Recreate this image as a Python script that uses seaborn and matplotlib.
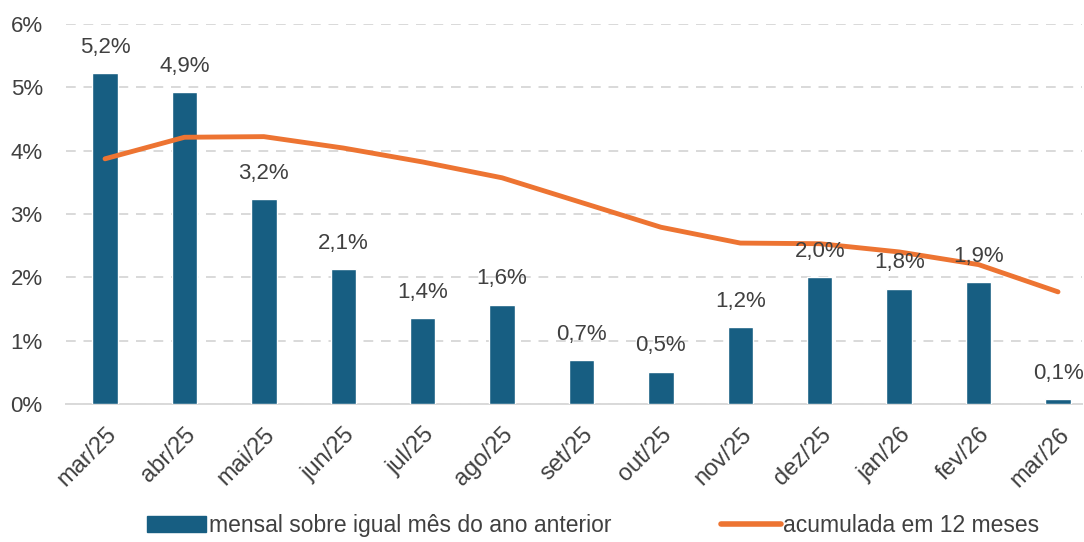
import matplotlib
matplotlib.use("Agg")
import matplotlib.pyplot as plt
import seaborn as sns
import pandas as pd
from matplotlib.patches import Patch
from matplotlib.lines import Line2D

meses = ["mar/25", "abr/25", "mai/25", "jun/25", "jul/25", "ago/25", "set/25",
         "out/25", "nov/25", "dez/25", "jan/26", "fev/26", "mar/26"]
mensal = [5.22, 4.92, 3.23, 2.13, 1.36, 1.57, 0.69, 0.51, 1.21, 2.00, 1.82, 1.92, 0.08]
rotulos = ["5,2%", "4,9%", "3,2%", "2,1%", "1,4%", "1,6%", "0,7%",
           "0,5%", "1,2%", "2,0%", "1,8%", "1,9%", "0,1%"]
acumulada = [3.87, 4.21, 4.22, 4.04, 3.82, 3.57, 3.18, 2.79, 2.54, 2.53, 2.40, 2.20, 1.77]

AZUL = "#175e82"
LARANJA = "#ed7432"
CINZA_TXT = "#404040"

df = pd.DataFrame({"mes": meses, "mensal": mensal, "acumulada": acumulada})

sns.set_style("white")
plt.rcParams["font.family"] = ["Liberation Sans", "DejaVu Sans"]

fig = plt.figure(figsize=(10.84, 5.42), dpi=100)
ax = fig.add_axes([0.061, 0.2546, 0.937, 0.7014])

sns.barplot(data=df, x="mes", y="mensal", color=AZUL, width=0.32,
            saturation=1, ax=ax, zorder=3)
sns.lineplot(x=range(len(meses)), y=df["acumulada"], color=LARANJA,
             linewidth=3.5, ax=ax, zorder=4, solid_capstyle="round")

for i, (v, t) in enumerate(zip(mensal, rotulos)):
    ax.annotate(t, (i, v), xytext=(0, 11), textcoords="offset points",
                ha="center", va="bottom", fontsize=16, color=CINZA_TXT, zorder=5)

ax.set_ylim(0, 6)
ax.set_xlim(-0.49, 12.3)
ax.set_yticks(range(0, 7))
ax.set_yticklabels([f"{i}%" for i in range(0, 7)])
ax.yaxis.grid(True, linestyle=(0, (5, 4)), color="#d9d9d9", linewidth=1.4, zorder=0)
ax.set_axisbelow(True)
ax.set_xlabel("")
ax.set_ylabel("")
ax.tick_params(axis="y", labelsize=16, colors=CINZA_TXT, length=0, pad=40)
ax.tick_params(axis="x", labelsize=17, colors=CINZA_TXT, length=0, pad=14)
for lbl in ax.get_xticklabels():
    lbl.set_rotation(45)
    lbl.set_ha("right")
    lbl.set_rotation_mode("anchor")
for lbl in ax.get_yticklabels():
    lbl.set_ha("left")

sns.despine(ax=ax, left=True, top=True, right=True)
ax.spines["bottom"].set_color("#d9d9d9")
ax.spines["bottom"].set_linewidth(1.4)

handles = [Patch(facecolor=AZUL, edgecolor=AZUL),
           Line2D([0], [0], color=LARANJA, linewidth=4)]
fig.legend(handles, ["mensal sobre igual mês do ano anterior", "acumulada em 12 meses"],
           loc="lower center", bbox_to_anchor=(0.547, -0.028), ncol=2, frameon=False,
           prop={"size": 16.5}, labelcolor=CINZA_TXT,
           handlelength=2.6, handletextpad=0.1, columnspacing=4.8)

fig.savefig("out.png", dpi=100)
